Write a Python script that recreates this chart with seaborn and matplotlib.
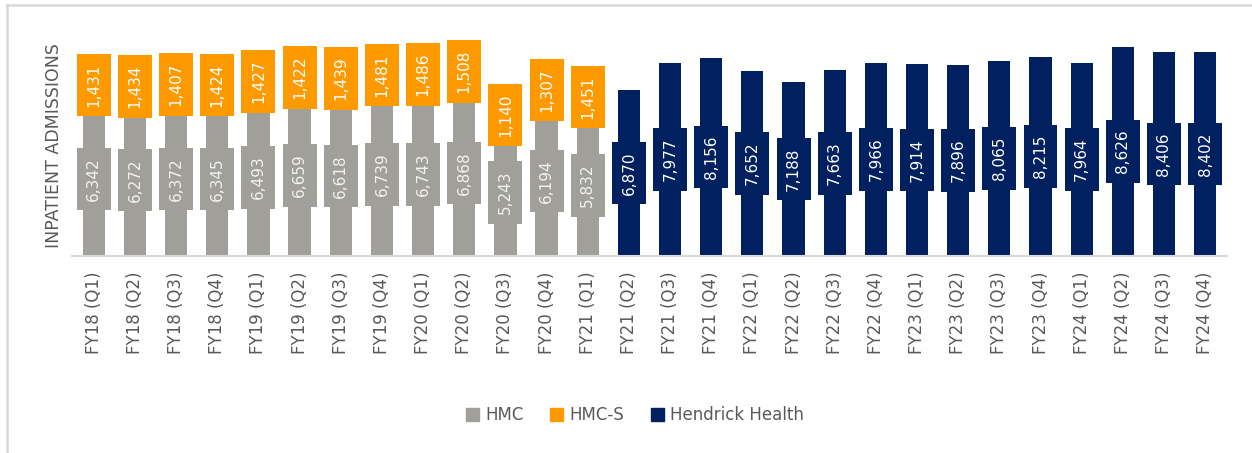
import numpy as np
import pandas as pd
import seaborn as sns
import matplotlib.pyplot as plt
from matplotlib.lines import Line2D
from matplotlib.patches import Patch

# ---- data ----
# quarters FY18 (Q1) .. FY24 (Q4)
periods = [f"FY{y} (Q{q})" for y in range(18, 25) for q in range(1, 5)]
# HMC / HMC-S run FY18 Q1 .. FY21 Q1, Hendrick Health FY21 Q2 .. FY24 Q4
hmc = [6342, 6272, 6372, 6345, 6493, 6659, 6618, 6739, 6743, 6868, 5243, 6194, 5832]
hmc_s = [1431, 1434, 1407, 1424, 1427, 1422, 1439, 1481, 1486, 1508, 1140, 1307, 1451]
hendrick = [6870, 7977, 8156, 7652, 7188, 7663, 7966, 7914, 7896, 8065, 8215, 7964, 8626, 8406, 8402]

C_HMC = "#A09F9A"
C_HMCS = "#FF9900"
C_HH = "#002060"

n_old = len(hmc)
df = pd.DataFrame({"period": periods})
df["HMC"] = hmc + [np.nan] * (len(periods) - n_old)
df["HMC-S"] = hmc_s + [np.nan] * (len(periods) - n_old)
df["HH"] = [np.nan] * (len(periods) - len(hendrick)) + hendrick
df["total_old"] = df["HMC"] + df["HMC-S"]

fig = plt.figure(figsize=(12.52, 4.53), dpi=100)
ax = fig.add_axes([0.0575, 0.4349, 0.9225, 0.4812])

bw = 0.54
sns.barplot(data=df, x="period", y="total_old", color=C_HMCS, width=bw, order=periods,
            errorbar=None, saturation=1, ax=ax)
sns.barplot(data=df, x="period", y="HMC", color=C_HMC, width=bw, order=periods,
            errorbar=None, saturation=1, ax=ax)
sns.barplot(data=df, x="period", y="HH", color=C_HH, width=bw, order=periods,
            errorbar=None, saturation=1, ax=ax)

# value labels with boxes wider than the bars
def label(x, y, val, fc, tc):
    ax.text(x, y, f"{val:,.0f}", rotation=90, ha="center", va="center",
            fontsize=11, color=tc, zorder=5, clip_on=False,
            bbox=dict(boxstyle="square,pad=0.62", fc=fc, ec="none"))

for i, row in df.iterrows():
    if not np.isnan(row["HMC"]):
        label(i, row["HMC"] / 2, row["HMC"], C_HMC, "#F2F2F2")
        label(i, row["HMC"] + row["HMC-S"] / 2, row["HMC-S"], C_HMCS, "white")
    if not np.isnan(row["HH"]):
        label(i, row["HH"] / 2, row["HH"], C_HH, "white")

ax.set_ylim(0, 9000)
ax.set_xlim(-0.53, len(periods) - 0.47)
ax.set_yticks([])
ax.set_xlabel("")
ax.set_ylabel("INPATIENT ADMISSIONS", fontsize=12.5, color="#595959")
ax.yaxis.set_label_coords(-0.008, 0.505)
ax.tick_params(axis="x", length=0, pad=11, labelsize=12, labelcolor="#595959")
plt.setp(ax.get_xticklabels(), rotation=90)
for s in ["top", "right", "left"]:
    ax.spines[s].set_visible(False)
ax.spines["bottom"].set_color("#D9D9D9")
ax.spines["bottom"].set_linewidth(1.5)
ax.spines["bottom"].set_zorder(6)

handles = [Patch(color=C_HMC, label="HMC"), Patch(color=C_HMCS, label="HMC-S"),
           Patch(color=C_HH, label="Hendrick Health")]
fig.legend(handles=handles, loc="center", bbox_to_anchor=(0.507, 0.083), ncol=3,
           frameon=False, fontsize=12, handlelength=0.8, handleheight=0.8,
           handletextpad=0.35, columnspacing=1.6, labelcolor="#595959")

# light chart border (top and left)
fig.add_artist(Line2D([7 / 1252, 7 / 1252], [0, 1 - 5 / 453], transform=fig.transFigure,
                      color="#D9D9D9", lw=1.8))
fig.add_artist(Line2D([7 / 1252, 1], [1 - 5 / 453, 1 - 5 / 453], transform=fig.transFigure,
                      color="#D9D9D9", lw=1.8))

fig.savefig("out.png", dpi=100)
